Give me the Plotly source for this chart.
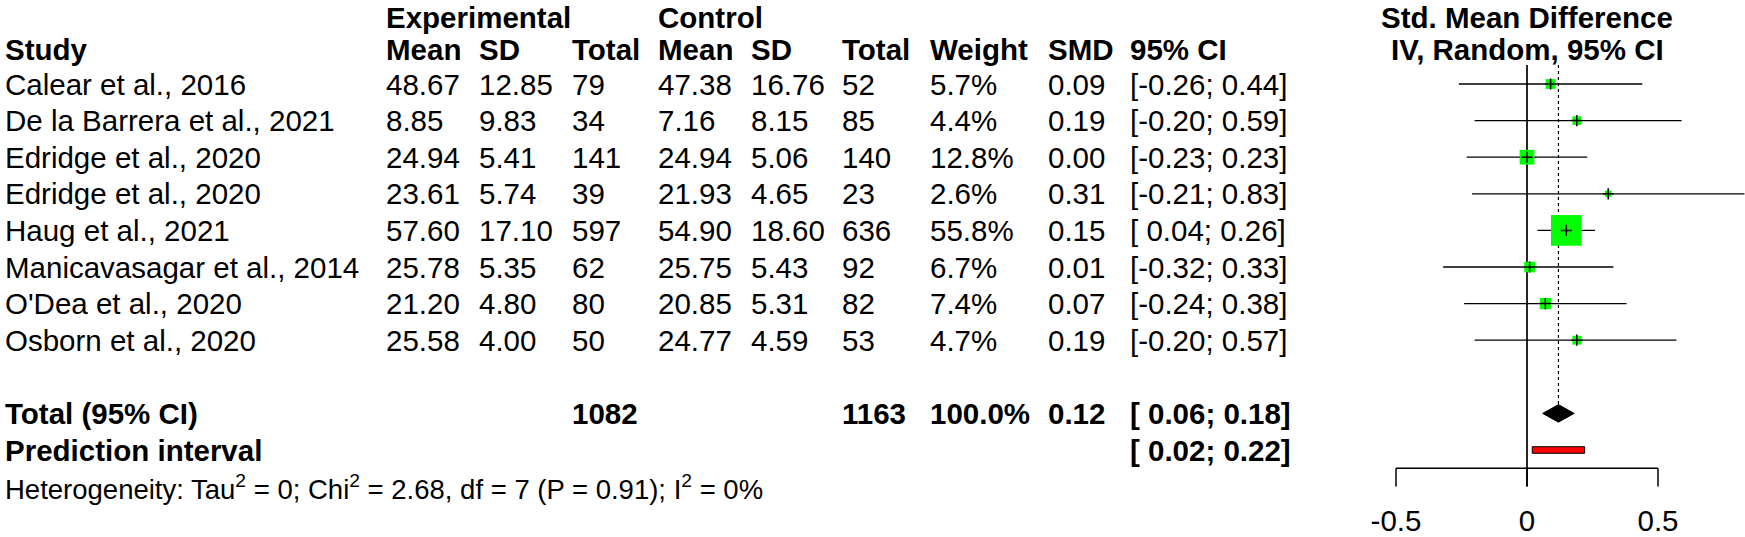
import math
import plotly.graph_objects as go

# ---------------- data ----------------
studies = ["Calear et al., 2016", "De la Barrera et al., 2021", "Edridge et al., 2020",
           "Edridge et al., 2020", "Haug et al., 2021", "Manicavasagar et al., 2014",
           "O'Dea et al., 2020", "Osborn et al., 2020"]
exp_mean = [48.67, 8.85, 24.94, 23.61, 57.60, 25.78, 21.20, 25.58]
exp_sd = [12.85, 9.83, 5.41, 5.74, 17.10, 5.35, 4.80, 4.00]
exp_n = [79, 34, 141, 39, 597, 62, 80, 50]
ctl_mean = [47.38, 7.16, 24.94, 21.93, 54.90, 25.75, 20.85, 24.77]
ctl_sd = [16.76, 8.15, 5.06, 4.65, 18.60, 5.43, 5.31, 4.59]
ctl_n = [52, 85, 140, 23, 636, 92, 82, 53]
weights = [5.7, 4.4, 12.8, 2.6, 55.8, 6.7, 7.4, 4.7]
smd = [0.09, 0.19, 0.00, 0.31, 0.15, 0.01, 0.07, 0.19]
ci_lo = [-0.26, -0.20, -0.23, -0.21, 0.04, -0.32, -0.24, -0.20]
ci_hi = [0.44, 0.59, 0.23, 0.83, 0.26, 0.33, 0.38, 0.57]

total_exp_n = 1082
total_ctl_n = 1163
total_weight = 100.0
total_smd = 0.12
total_lo, total_hi = 0.06, 0.18
pred_lo, pred_hi = 0.02, 0.22
het_text = ("Heterogeneity: Tau<sup>2</sup> = 0; Chi<sup>2</sup> = 2.68, df = 7 "
            "(P = 0.91); I<sup>2</sup> = 0%")
tick_vals = [-0.5, 0, 0.5]
tick_text = ["-0.5", "0", "0.5"]

# ---------------- layout constants (pixels) ----------------
W, H = 1745, 537
ROW0, ROWH = 84.0, 36.6          # pixel of first study row, row spacing
X0PX, UNITPX = 1527.0, 262.0     # pixel of SMD=0, pixels per SMD unit
PLOT_LEFT = 1240.0
FONT = "Liberation Sans, Arial, sans-serif"
FS = 29.5
FS_HET = 27.5

def px2row(p):
    return (p - ROW0) / ROWH

def pxx(p):
    return p / W

rows = list(range(len(studies)))
ROW_TOTAL = len(studies) + 1
ROW_PRED = len(studies) + 2
ROW_AXIS = ROW_PRED + 0.5
ROW_TICKEND = ROW_PRED + 1.0
ROW_TICKLBL = px2row(524)
ROW_HDR1_TOP = px2row(0)
ROW_HDR2 = px2row(49)
ROW_HET = px2row(487)
ROW_TOPLINE = px2row(65)

fig = go.Figure()

# zero line
fig.add_trace(go.Scatter(x=[0, 0], y=[ROW_TOPLINE, ROW_TICKEND], mode="lines",
                         line=dict(color="black", width=1.7), hoverinfo="skip"))
# dotted summary line
fig.add_trace(go.Scatter(x=[total_smd, total_smd], y=[ROW_TOPLINE, ROW_TOTAL - 0.24],
                         mode="lines", line=dict(color="black", width=1.2, dash="dot"),
                         hoverinfo="skip"))
# CI lines
cx, cy = [], []
for r, lo, hi in zip(rows, ci_lo, ci_hi):
    cx += [lo, hi, None]
    cy += [r, r, None]
fig.add_trace(go.Scatter(x=cx, y=cy, mode="lines", line=dict(color="black", width=1.3),
                         hoverinfo="skip"))
# squares
fig.add_trace(go.Scatter(x=smd, y=rows, mode="markers",
                         marker=dict(symbol="square", color="#00FF00", opacity=1,
                                     size=[4.11 * math.sqrt(w) for w in weights],
                                     line=dict(width=0)),
                         hoverinfo="skip"))
# small crosses at estimates
fig.add_trace(go.Scatter(x=smd, y=rows, mode="markers",
                         marker=dict(symbol="cross-thin", size=8, opacity=1,
                                     line=dict(color="black", width=1.5)),
                         hoverinfo="skip"))
# diamond
DH = 0.24
fig.add_trace(go.Scatter(x=[total_lo, total_smd, total_hi, total_smd, total_lo],
                         y=[ROW_TOTAL, ROW_TOTAL - DH, ROW_TOTAL, ROW_TOTAL + DH, ROW_TOTAL],
                         mode="lines", fill="toself", fillcolor="black",
                         line=dict(color="black", width=1), hoverinfo="skip"))
# prediction interval bar
PH = 0.09
fig.add_trace(go.Scatter(x=[pred_lo, pred_hi, pred_hi, pred_lo, pred_lo],
                         y=[ROW_PRED - PH, ROW_PRED - PH, ROW_PRED + PH, ROW_PRED + PH, ROW_PRED - PH],
                         mode="lines", fill="toself", fillcolor="#FF0000",
                         line=dict(color="black", width=1), hoverinfo="skip"))
# axis line + ticks
ax_x = [tick_vals[0], tick_vals[-1], None]
ax_y = [ROW_AXIS, ROW_AXIS, None]
for t in tick_vals:
    ax_x += [t, t, None]
    ax_y += [ROW_AXIS, ROW_TICKEND, None]
fig.add_trace(go.Scatter(x=ax_x, y=ax_y, mode="lines", line=dict(color="black", width=1.5),
                         hoverinfo="skip"))
# tick labels
fig.add_trace(go.Scatter(x=tick_vals, y=[ROW_TICKLBL] * len(tick_vals), mode="text",
                         text=tick_text, textposition="middle center",
                         textfont=dict(family=FONT, size=FS, color="black"),
                         cliponaxis=False, hoverinfo="skip"))

# ---------------- text columns ----------------
col_px = {"study": 4, "emean": 385, "esd": 478, "etot": 571, "cmean": 657,
          "csd": 750, "ctot": 841, "w": 929, "smd": 1047, "ci": 1129}

anns = []

def txt(col, row, s, bold=False, size=FS, yanchor="middle"):
    if bold:
        s = "<b>" + s + "</b>"
    anns.append(dict(x=pxx(col_px[col]), xref="paper", y=row, yref="y", text=s,
                     showarrow=False, xanchor="left", yanchor=yanchor, borderpad=0,
                     font=dict(family=FONT, size=size, color="black")))

# headers
txt("emean", ROW_HDR1_TOP, "Experimental", True, yanchor="top")
txt("cmean", ROW_HDR1_TOP, "Control", True, yanchor="top")
for col, s in [("study", "Study"), ("emean", "Mean"), ("esd", "SD"), ("etot", "Total"),
               ("cmean", "Mean"), ("csd", "SD"), ("ctot", "Total"), ("w", "Weight"),
               ("smd", "SMD"), ("ci", "95% CI")]:
    txt(col, ROW_HDR2, s, True)
for row, s, ya in [(ROW_HDR1_TOP, "Std. Mean Difference", "top"),
                   (ROW_HDR2, "IV, Random, 95% CI", "middle")]:
    anns.append(dict(x=0, xref="x", y=row, yref="y", text="<b>" + s + "</b>",
                     showarrow=False, xanchor="center", yanchor=ya, borderpad=0,
                     font=dict(family=FONT, size=FS, color="black")))

def fmt_ci(lo, hi):
    return "[" + (" " if lo >= 0 else "") + f"{lo:.2f}; {hi:.2f}]"

for i in rows:
    txt("study", i, studies[i])
    txt("emean", i, f"{exp_mean[i]:.2f}")
    txt("esd", i, f"{exp_sd[i]:.2f}")
    txt("etot", i, f"{exp_n[i]}")
    txt("cmean", i, f"{ctl_mean[i]:.2f}")
    txt("csd", i, f"{ctl_sd[i]:.2f}")
    txt("ctot", i, f"{ctl_n[i]}")
    txt("w", i, f"{weights[i]:.1f}%")
    txt("smd", i, f"{smd[i]:.2f}")
    txt("ci", i, fmt_ci(ci_lo[i], ci_hi[i]))

txt("study", ROW_TOTAL, "Total (95% CI)", True)
txt("etot", ROW_TOTAL, f"{total_exp_n}", True)
txt("ctot", ROW_TOTAL, f"{total_ctl_n}", True)
txt("w", ROW_TOTAL, f"{total_weight:.1f}%", True)
txt("smd", ROW_TOTAL, f"{total_smd:.2f}", True)
txt("ci", ROW_TOTAL, fmt_ci(total_lo, total_hi), True)
txt("study", ROW_PRED, "Prediction interval", True)
txt("ci", ROW_PRED, fmt_ci(pred_lo, pred_hi), True)
txt("study", ROW_HET, het_text, False, FS_HET)

fig.update_layout(
    width=W, height=H, margin=dict(l=0, r=0, t=0, b=0),
    paper_bgcolor="white", plot_bgcolor="white", showlegend=False,
    annotations=anns,
    xaxis=dict(domain=[PLOT_LEFT / W, 1],
               range=[(PLOT_LEFT - X0PX) / UNITPX, (W - X0PX) / UNITPX],
               visible=False, fixedrange=True),
    yaxis=dict(domain=[0, 1], range=[px2row(H), px2row(0)],
               visible=False, fixedrange=True),
)

fig.write_html(
    "out.html",
    config={"displayModeBar": False, "staticPlot": True},
    post_script="document.body.style.margin='0px';document.body.style.overflow='hidden';",
)
